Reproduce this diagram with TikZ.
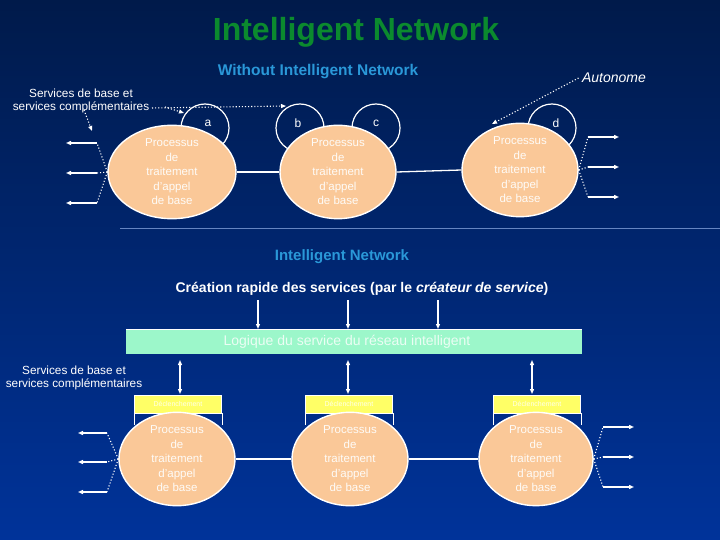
\documentclass[tikz,border=0pt]{standalone}
\usepackage{fontspec}
\setmainfont{Liberation Sans}
\usetikzlibrary{arrows.meta,shapes.geometric}
\definecolor{bgtop}{HTML}{001A4A}
\definecolor{bgbot}{HTML}{00339A}
\definecolor{peach}{HTML}{FAC898}
\definecolor{mint}{HTML}{9CF7CA}
\definecolor{yel}{HTML}{FFFF66}
\definecolor{ttl}{HTML}{0B8A2E}
\definecolor{sub}{HTML}{2A98D8}
\tikzset{
 proc/.style={ellipse,draw=white,line width=1.4pt,fill=peach,minimum width=#1,minimum height=88pt,inner sep=0pt,align=center,text=white!92!peach,font=\fontsize{11.5}{14.5}\selectfont},
 circ/.style={circle,draw=white,line width=1.2pt,minimum size=48pt,inner sep=0pt},
 lbl/.style={text=white,font=\fontsize{12}{14}\selectfont},
 dot/.style={white,dotted,line width=1.1pt},
 outarr/.style={white,line width=1.3pt,-{Triangle[length=5pt,width=4pt]}},
 dbl/.style={white,line width=1.2pt,{Triangle[length=5pt,width=4pt]}-{Triangle[length=5pt,width=4pt]}},
 dn/.style={white,line width=1.2pt,-{Triangle[length=5pt,width=4pt]}},
 trig/.style={fill=yel,draw=white,line width=0.8pt,minimum width=87pt,minimum height=18pt,inner sep=0pt,text=white!85!yel,font=\fontsize{7}{8}\selectfont},
}
\begin{document}
\begin{tikzpicture}[x=1pt,y=-1pt]
\useasboundingbox (0,0) rectangle (720,540);
\shade[top color=bgtop,bottom color=bgbot] (0,0) rectangle (720,540);
\draw[white!40!bgbot,line width=0.6pt] (120,228) -- (720,228);
% titles
\node[text=ttl,font=\bfseries\fontsize{32}{36}\selectfont] (title) at (356,32) {Intelligent Network};
\node[text=sub,font=\bfseries\fontsize{15.5}{18}\selectfont] (sub1) at (318,72) {Without Intelligent Network};
\node[lbl,font=\itshape\fontsize{14}{16}\selectfont] (auto) at (614,78) {Autonome};
\node[lbl,align=center,font=\fontsize{11.8}{13}\selectfont] (svc1) at (81,101) {Services de base et\\services complémentaires};
% top circles (behind)
\node[circ] (ca) at (205,128) {};
\node[circ] (cb) at (300,128) {};
\node[circ] (cc) at (376,128) {};
\node[circ] (cd) at (552,128) {};
\node[lbl] at (208,123) {a};
\node[lbl] at (298,123) {b};
\node[lbl] at (376,123) {c};
\node[lbl] at (556,123) {d};
% top ellipses
\node[proc=128pt] (p1) at (172,172) {Processus\\de\\traitement\\d'appel\\de base};
\node[proc=116pt] (p2) at (338,172) {Processus\\de\\traitement\\d'appel\\de base};
\node[proc=116pt] (p3) at (520,170) {Processus\\de\\traitement\\d'appel\\de base};
\draw[white,line width=1.3pt] (p1.east) -- (p2.west);
\draw[white,line width=1.3pt] (p2.east) -- (p3.west);
% left outputs
\coordinate (l1) at (97,143); \coordinate (l2) at (97,173); \coordinate (l3) at (97,203);
\coordinate (lt1) at (66,143); \coordinate (lt2) at (66,173); \coordinate (lt3) at (66,203);
\foreach \i in {1,2,3} {\draw[dot] (p1.west) -- (l\i); \draw[outarr] (l\i) -- (lt\i);}
\coordinate (r1) at (588,137); \coordinate (r2) at (588,167); \coordinate (r3) at (588,197);
\coordinate (rt1) at (619,137); \coordinate (rt2) at (619,167); \coordinate (rt3) at (619,197);
\foreach \i in {1,2,3} {\draw[dot] (p3.east) -- (r\i); \draw[outarr] (r\i) -- (rt\i);}
% dotted annotations
\coordinate (sa) at (92,131); \coordinate (sb) at (286,106); \coordinate (sc) at (184,113);
\coordinate (se) at (152,108); \coordinate (ad) at (492,124);
\draw[dot,-{Triangle[length=5pt,width=4pt]}] (84,110) -- (sa);
\draw[dot,-{Triangle[length=5pt,width=4pt]}] (se) -- (sb);
\draw[dot,-{Triangle[length=5pt,width=4pt]}] (165,107) -- (sc);
\draw[dot,-{Triangle[length=5pt,width=4pt]}] (auto.west) -- (ad);
% bottom section
\node[text=sub,font=\bfseries\fontsize{15}{18}\selectfont] (sub2) at (342,257) {Intelligent Network};
\node[lbl,font=\bfseries\fontsize{14}{16}\selectfont] (crea) at (362,289) {Création rapide des services (par le \textit{créateur de service})};
\node[fill=mint,minimum width=456pt,minimum height=24pt,inner sep=0pt,text=white!80!mint,font=\fontsize{14}{16}\selectfont] (bar) at (354,342) {\hspace*{-14pt}Logique du service du réseau intelligent};
\draw[white,line width=1pt] (126,329) -- (582,329);
\foreach \x in {258,348,438} {\draw[dn] (\x,300) -- (\x,329);}
\node[lbl,align=center,font=\fontsize{11.8}{13}\selectfont] (svc2) at (74,378) {Services de base et\\services complémentaires};
% trigger boxes
\foreach \n/\x in {t1/178,t2/349,t3/537} {
  \node[trig] (\n) at (\x,404) {Déclenchement};
  \draw[white,line width=0.8pt] (\n.south west) -- ++(0,12);
  \draw[white,line width=0.8pt] (\n.south east) -- ++(0,12);
}
\draw[dbl] (180,360) -- (180,394);
\draw[dbl] (348,360) -- (348,394);
\draw[dbl] (532,360) -- (532,394);
% bottom ellipses
\node[proc=116pt] (q1) at (177,459) {Processus\\de\\traitement\\d'appel\\de base};
\node[proc=116pt] (q2) at (350,459) {Processus\\de\\traitement\\d'appel\\de base};
\node[proc=114pt] (q3) at (536,459) {Processus\\de\\traitement\\d'appel\\de base};
\draw[white,line width=1.3pt] (q1.east) -- (q2.west);
\draw[white,line width=1.3pt] (q2.east) -- (q3.west);
\coordinate (m1) at (107,433); \coordinate (m2) at (107,462); \coordinate (m3) at (107,492);
\coordinate (mt1) at (78,433); \coordinate (mt2) at (78,462); \coordinate (mt3) at (78,492);
\foreach \i in {1,2,3} {\draw[dot] (q1.west) -- (m\i); \draw[outarr] (m\i) -- (mt\i);}
\coordinate (n1) at (603,427); \coordinate (n2) at (603,457); \coordinate (n3) at (603,487);
\coordinate (nt1) at (634,427); \coordinate (nt2) at (634,457); \coordinate (nt3) at (634,487);
\foreach \i in {1,2,3} {\draw[dot] (q3.east) -- (n\i); \draw[outarr] (n\i) -- (nt\i);}
\end{tikzpicture}
\end{document}
